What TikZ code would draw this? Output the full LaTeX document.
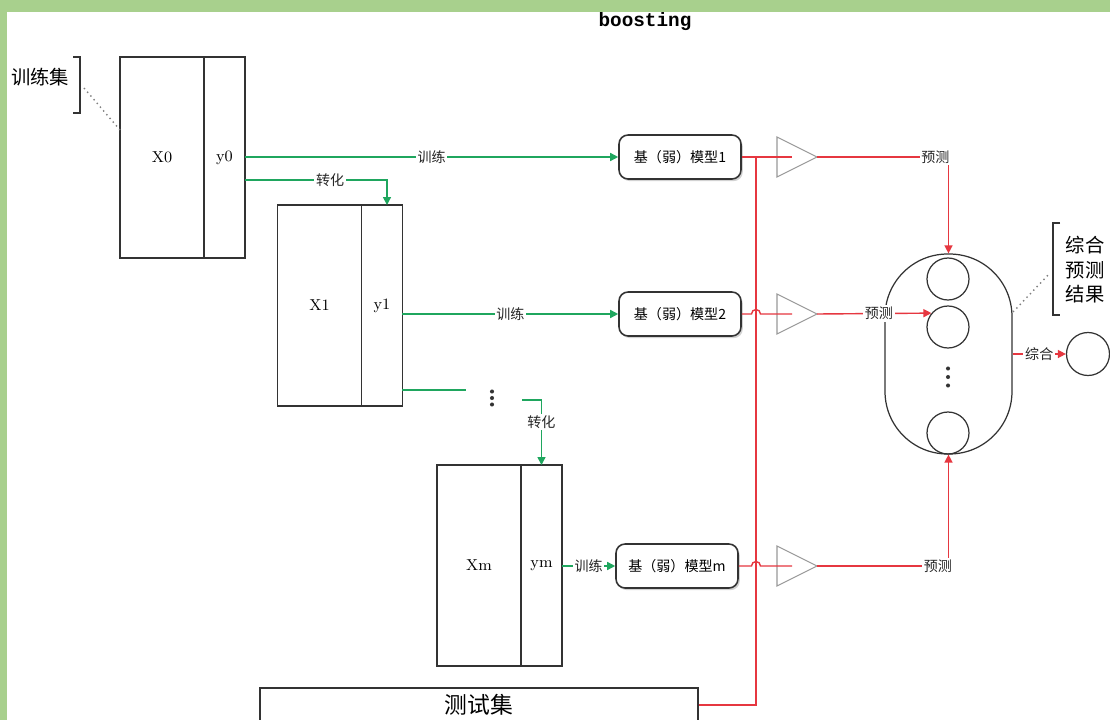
\documentclass[tikz,border=0pt]{standalone}
\usepackage{fontspec}
\newfontfamily\cjk{Noto Sans CJK SC}
\newfontfamily\monob{Liberation Mono}
\usetikzlibrary{positioning,arrows.meta,shadows,calc}
\definecolor{bordergreen}{HTML}{A8D08D}
\definecolor{flowgreen}{HTML}{1FA65E}
\definecolor{predred}{HTML}{E63740}
\definecolor{edgegray}{HTML}{333333}
\tikzset{
  xpart/.style={draw=edgegray, line width=0.7pt, outer sep=0pt, inner sep=0pt,
    minimum width=1.68cm, minimum height=4.02cm, font=\fontsize{9}{10}\selectfont},
  ypart/.style={xpart, minimum width=0.82cm},
  model/.style={draw=edgegray, line width=0.9pt, rounded corners=0.18cm, fill=white,
    minimum width=2.44cm, minimum height=0.88cm,
    drop shadow={shadow xshift=1pt, shadow yshift=-1.2pt, opacity=0.35},
    font=\cjk\fontsize{8}{9}\selectfont},
  lbl/.style={fill=white, text=black!85, inner sep=1pt, font=\cjk\fontsize{8}{9}\selectfont},
  train/.style={flowgreen, line width=0.8pt, -{Triangle[length=1.6mm,width=1.6mm]}},
  pred/.style={predred, line width=0.8pt},
  predarrow/.style={pred, -{Triangle[length=1.6mm,width=1.6mm]}},
  ball/.style={circle, draw=edgegray, line width=0.7pt, minimum size=0.84cm, inner sep=0pt},
  dotmark/.style={fill=black!80}
}
\begin{document}
\begin{tikzpicture}[x=0.02cm,y=-0.02cm]
\useasboundingbox (0,0) rectangle (1110,720);
\clip (0,0) rectangle (1110,720);
% frame
\fill[bordergreen] (0,0) rectangle (1110,720);
\fill[white] (7,12) rectangle (1110,720);
\node[font=\monob\bfseries\fontsize{11}{12}\selectfont] (title) at (645,22) {boosting};

% training sets
\node[xpart] (x0) at (162,157.5) {X0};
\node[ypart, right=0pt of x0] (y0) {y0};
\node[xpart] (x1) at (319.5,305.5) {X1};
\node[ypart, right=0pt of x1] (y1) {y1};
\node[xpart] (xm) at (479,565.5) {Xm};
\node[ypart, right=0pt of xm] (ym) {ym};

\node[font=\cjk\fontsize{11}{12}\selectfont] (trainset) at (40,77) {训练集};
\draw[edgegray, line width=0.7pt] (73,57) -- (80,57) -- (80,113) -- (73,113);
\draw[gray, dotted, line width=0.8pt] (84,88) -- ([yshift=0.55cm]x0.west);

% base models
\node[model] (m1) at (680,157) {基（弱）模型1};
\node[model] (m2) at (680,314) {基（弱）模型2};
\node[model] (mm) at (677,566) {基（弱）模型m};

% training flow
\draw[train] (y0.east |- m1.west) -- node[lbl]{训练} (m1.west);
\draw[train] ([yshift=-0.45cm]y0.east) -| node[lbl, pos=0.3]{转化} ([xshift=0.1cm]y1.north);
\draw[train] (y1.east |- m2.west) -- node[lbl]{训练} (m2.west);
\coordinate (d1) at (466,390);
\draw[flowgreen, line width=0.8pt] (y1.east |- d1) -- (d1);
\coordinate (vd) at (492,398);
\foreach \dy in {-6.5,0,6.5} \fill[dotmark] ($(vd)+(0,\dy)$) circle[radius=1.15pt];
\coordinate (d2) at (522,400);
\draw[train] (d2) -| node[lbl, pos=0.67]{转化} (ym.north);
\draw[train] (ym.east |- mm.west) -- node[lbl]{训练} (mm.west);

% test set
\node[draw=edgegray, line width=0.7pt, minimum width=8.76cm, minimum height=0.68cm,
  font=\cjk\fontsize{13}{14}\selectfont] (test) at (479,705) {测试集};

% amplifiers
\foreach \i/\y in {1/157, 2/314, 3/566} {
  \draw[gray!80, line width=0.6pt] (777,\y-20) -- (817,\y) -- (777,\y+20) -- cycle;
  \coordinate (tin\i) at (792,\y);
  \coordinate (tout\i) at (817,\y);
}
\coordinate (bus) at (756,157);
\draw[pred] (test.east) -| (bus);
\draw[pred] (m1.east) -- (tin1);
\draw[pred] (m2.east) -- ($(m2.east -| bus)+(-0.09cm,0)$)
  arc[start angle=180, end angle=0, radius=0.09cm] -- (tin2);
\draw[pred] (mm.east) -- ($(mm.east -| bus)+(-0.09cm,0)$)
  arc[start angle=180, end angle=0, radius=0.09cm] -- (tin3);

% ensemble
\node[draw=edgegray, line width=0.7pt, rounded corners=1.25cm, minimum width=2.54cm,
  minimum height=4cm] (st) at (948.5,354) {};
\node[ball] (c1) at (948,279) {};
\node[ball] (c2) at (948,327) {};
\coordinate (cd) at (948,377);
\foreach \dy in {-8.5,0,8.5} \fill[dotmark] ($(cd)+(0,\dy)$) circle[radius=1.15pt];
\node[ball] (c3) at (948,433) {};

\draw[predarrow] (tout1) -| node[lbl, pos=0.45]{预测} (st.north);
\draw[predarrow] (tout2) -- node[lbl, pos=0.54]{预测} (c2.140);
\draw[predarrow] (tout3) -| node[lbl, pos=0.46]{预测} (st.south);

\node[ball, minimum size=0.86cm] (res) at (1088,354) {};
\draw[predarrow] (st.east) -- node[lbl]{综合} (res.west);

\node[align=center, font=\cjk\fontsize{11}{14}\selectfont] (restext) at (1085,270) {综合\\预测\\结果};
\draw[edgegray, line width=0.7pt] (1060,223) -- (1053,223) -- (1053,315) -- (1060,315);
\draw[gray, dotted, line width=0.8pt] (1013,312) -- (1050,273);
\end{tikzpicture}
\end{document}
